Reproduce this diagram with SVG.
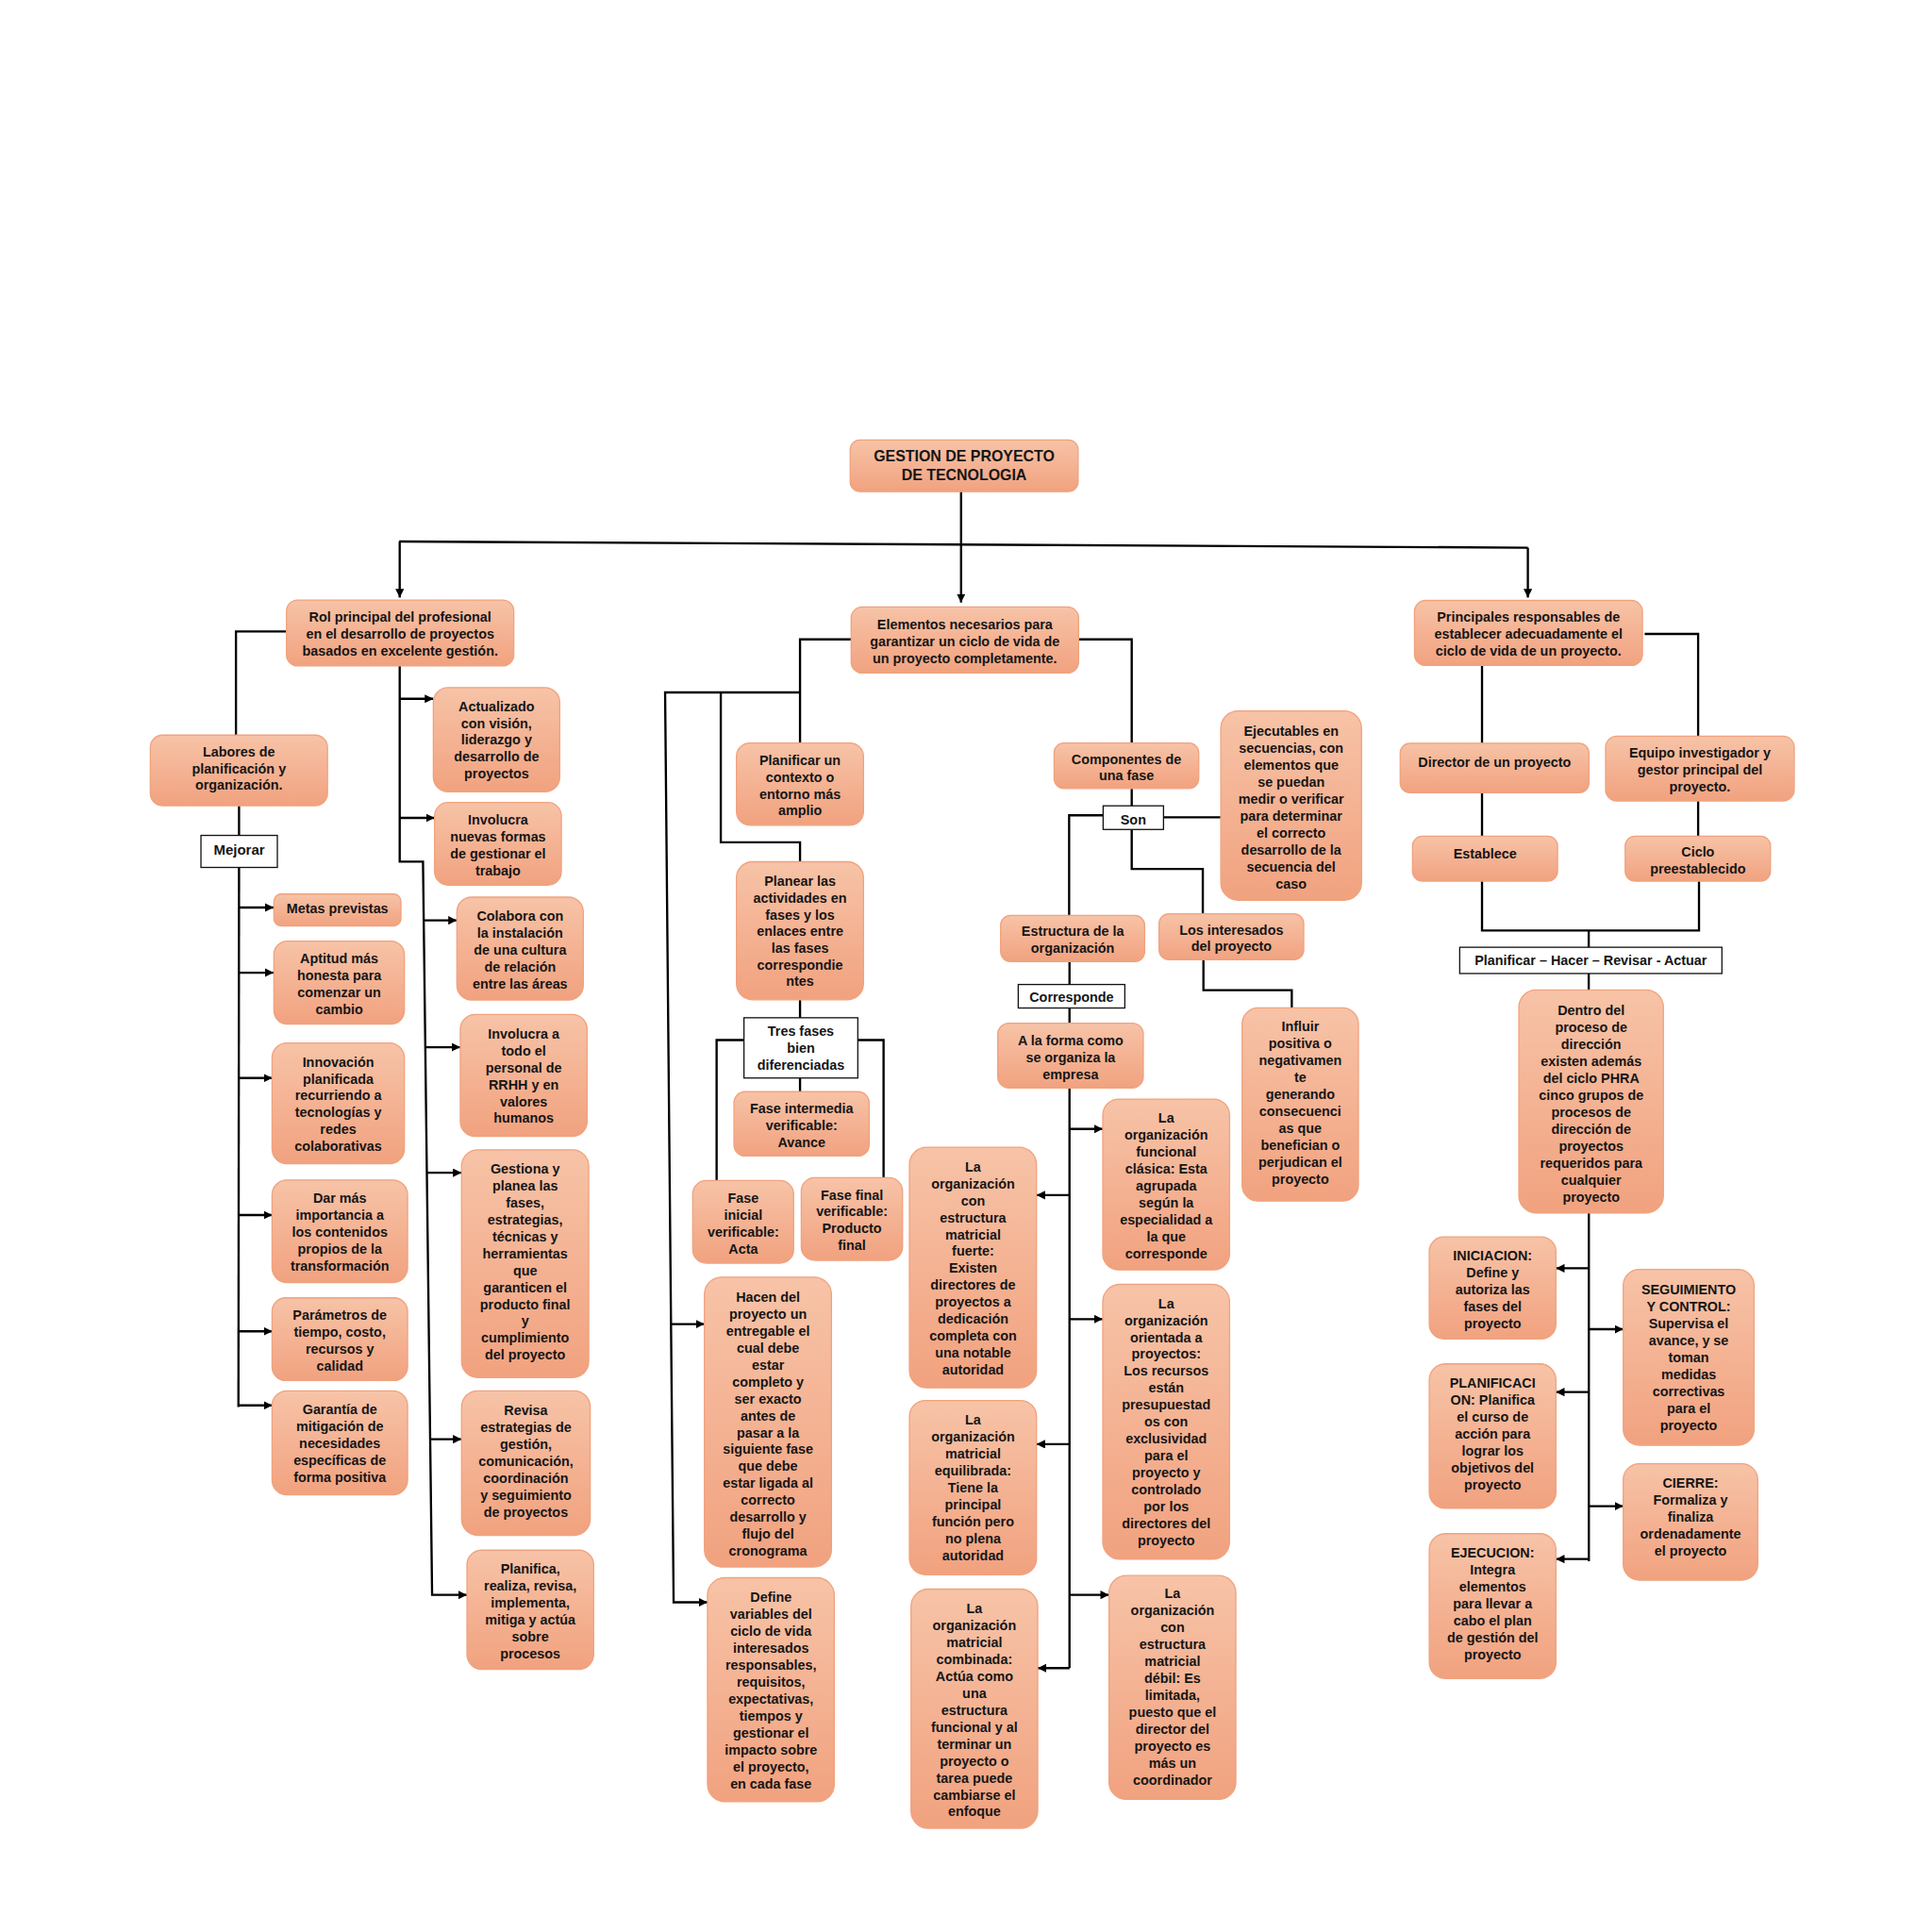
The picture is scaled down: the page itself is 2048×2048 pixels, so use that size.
<svg xmlns="http://www.w3.org/2000/svg" width="2048" height="2048" viewBox="0 0 2048 2048">
<style>
.node rect{fill:url(#gr);stroke:#F0A27E;stroke-width:1}
.lbl rect{fill:#fff;stroke:#111;stroke-width:1}
text{font-family:"Liberation Sans",Arial,sans-serif;font-weight:bold;font-size:11px;fill:#151515;text-anchor:middle}
#connectors path{fill:none;stroke:#000;stroke-width:1.8}
#connectors path.a{marker-end:url(#ah)}
</style>
<defs>
<linearGradient id="gr" x1="0" y1="0" x2="0" y2="1">
<stop offset="0" stop-color="#F7C3A7"/>
<stop offset="1" stop-color="#F1A27F"/>
</linearGradient>
<marker id="ah" markerUnits="userSpaceOnUse" markerWidth="7" markerHeight="7" refX="7" refY="3.5" orient="auto">
<path d="M0,0 L7,3.5 L0,7 z" fill="#000"/>
</marker>
</defs>
<rect width="2048" height="2048" fill="#fff"/>
<g transform="scale(1.306122)">
<g id="connectors">
<path class="a" d="M780,399 V489"/>
<path d="M324,439.5 L1240,444.5"/>
<path class="a" d="M324.4,439.5 V485"/>
<path class="a" d="M1240,444.5 V485"/>
<path d="M232.5,512.5 H191.5 V596.6"/>
<path d="M194,654 V678"/>
<path d="M194,704 L193.5,1142"/>
<path class="a" d="M194,736.5 H222"/>
<path class="a" d="M194,789.4 H222"/>
<path class="a" d="M194,874.9 H221"/>
<path class="a" d="M194,986.1 H221"/>
<path class="a" d="M193.8,1080.5 H221"/>
<path class="a" d="M193.5,1140.6 H221"/>
<path class="a" d="M324.4,540 V699.3 H343.3 L350.7,1294.4 H379"/>
<path class="a" d="M324.4,567.1 H351.7"/>
<path class="a" d="M324.4,663.8 H352.7"/>
<path class="a" d="M343.9,747 H370.8"/>
<path class="a" d="M345.2,849.9 H373.6"/>
<path class="a" d="M346.5,951.8 H374.6"/>
<path class="a" d="M349.2,1168.1 H374.6"/>
<path d="M690.8,518.9 H649.3 V603"/>
<path class="a" d="M649.3,562 H539.8 L546.7,1300.4 H574.2"/>
<path class="a" d="M544.6,1074.6 H571.7"/>
<path d="M585,562 V683.6 H649.3 V699.4"/>
<path d="M649.3,811.4 V826"/>
<path d="M603.8,844.1 H581.6 V958.1"/>
<path d="M696.2,844.1 H717.1 V955.8"/>
<path d="M649.3,875 V886"/>
<path d="M875.4,518.9 H918.5 V603"/>
<path d="M918.5,640 V654"/>
<path d="M895.3,661.7 H867.7 V743"/>
<path d="M944.3,663.3 H990.8"/>
<path d="M918.5,673.2 V705.2 H976.2 V741.6"/>
<path d="M868,780.4 V799"/>
<path d="M868,818.1 V830.4"/>
<path d="M976.7,779 V803.6 H1048.4 V818"/>
<path d="M868,883 V1353.8"/>
<path class="a" d="M868,916.3 H895"/>
<path class="a" d="M868,970 H841.2"/>
<path class="a" d="M868,1070.6 H895"/>
<path class="a" d="M868,1172.1 H841.2"/>
<path class="a" d="M868,1294.4 H900.1"/>
<path class="a" d="M868,1353.8 H842.2"/>
<path d="M1334.8,514.5 H1378.2 V597.5"/>
<path d="M1202.8,540.1 V603.2"/>
<path d="M1202.8,643.4 V678.6"/>
<path d="M1378.2,650 V678.6"/>
<path d="M1202.8,715.1 V755.2 H1378.9 V715.1"/>
<path d="M1289.4,755.2 V768.8"/>
<path d="M1289.4,790.1 V803.4"/>
<path d="M1289.5,984.4 V1267.2"/>
<path class="a" d="M1289.5,1029.3 H1262.8"/>
<path class="a" d="M1289.5,1078.8 H1317.4"/>
<path class="a" d="M1289.5,1129.8 H1262.8"/>
<path class="a" d="M1289.5,1222.4 H1317.4"/>
<path class="a" d="M1289.5,1265.3 H1262.8"/>
</g>

<g id="n-title" class="node"><rect x="690" y="357" width="185" height="42" rx="8"/><text x="782.5" y="374.4" style="font-size:12.2px"><tspan x="782.5">GESTION DE PROYECTO</tspan><tspan x="782.5" dy="15.4">DE TECNOLOGIA</tspan></text></g>
<g id="n-rol" class="node"><rect x="232.5" y="487" width="184.5" height="53.5" rx="9"/><text x="324.75" y="504.2"><tspan x="324.75">Rol principal del profesional</tspan><tspan x="324.75" dy="13.8">en el desarrollo de proyectos</tspan><tspan x="324.75" dy="13.8">basados en excelente gestión.</tspan></text></g>
<g id="n-elementos" class="node"><rect x="690.8" y="492.6" width="184.6" height="53.6" rx="9"/><text x="783.1" y="510.3"><tspan x="783.1">Elementos necesarios para</tspan><tspan x="783.1" dy="13.8">garantizar un ciclo de vida de</tspan><tspan x="783.1" dy="13.8">un proyecto completamente.</tspan></text></g>
<g id="n-principales" class="node"><rect x="1148" y="487.3" width="185" height="52.8" rx="9"/><text x="1240.5" y="504.6"><tspan x="1240.5">Principales responsables de</tspan><tspan x="1240.5" dy="13.6">establecer adecuadamente el</tspan><tspan x="1240.5" dy="13.6">ciclo de vida de un proyecto.</tspan></text></g>

<g id="n-labores" class="node"><rect x="122" y="596.6" width="143.8" height="57.3" rx="10"/><text x="193.9" y="614.2"><tspan x="193.9">Labores de</tspan><tspan x="193.9" dy="13.5">planificación y</tspan><tspan x="193.9" dy="13.5">organización.</tspan></text></g>
<g id="n-mejorar" class="lbl"><rect x="163.1" y="678" width="62" height="26"/><text x="194.1" y="694" style="font-size:11.5px">Mejorar</text></g>
<g id="n-metas" class="node"><rect x="222.3" y="725.6" width="103.1" height="26" rx="6"/><text x="273.9" y="741.5">Metas previstas</text></g>
<g id="n-aptitud" class="node"><rect x="222.3" y="763.8" width="105.9" height="67.4" rx="11"/><text x="275.3" y="781.9"><tspan x="275.3">Aptitud más</tspan><tspan x="275.3" dy="13.75">honesta para</tspan><tspan x="275.3" dy="13.75">comenzar un</tspan><tspan x="275.3" dy="13.75">cambio</tspan></text></g>
<g id="n-innovacion" class="node"><rect x="220.8" y="846.5" width="107.4" height="98" rx="12"/><text x="274.5" y="865.6"><tspan x="274.5">Innovación</tspan><tspan x="274.5" dy="13.75">planificada</tspan><tspan x="274.5" dy="13.75">recurriendo a</tspan><tspan x="274.5" dy="13.75">tecnologías y</tspan><tspan x="274.5" dy="13.75">redes</tspan><tspan x="274.5" dy="13.75">colaborativas</tspan></text></g>
<g id="n-darmas" class="node"><rect x="220.8" y="957.7" width="110" height="83.2" rx="12"/><text x="275.8" y="976.4"><tspan x="275.8">Dar más</tspan><tspan x="275.8" dy="13.75">importancia a</tspan><tspan x="275.8" dy="13.75">los contenidos</tspan><tspan x="275.8" dy="13.75">propios de la</tspan><tspan x="275.8" dy="13.75">transformación</tspan></text></g>
<g id="n-parametros" class="node"><rect x="220.8" y="1053.3" width="110" height="67.1" rx="11"/><text x="275.8" y="1071.3"><tspan x="275.8">Parámetros de</tspan><tspan x="275.8" dy="13.75">tiempo, costo,</tspan><tspan x="275.8" dy="13.75">recursos y</tspan><tspan x="275.8" dy="13.75">calidad</tspan></text></g>
<g id="n-garantia" class="node"><rect x="220.8" y="1128.8" width="110" height="84.4" rx="12"/><text x="275.8" y="1147.5"><tspan x="275.8">Garantía de</tspan><tspan x="275.8" dy="13.75">mitigación de</tspan><tspan x="275.8" dy="13.75">necesidades</tspan><tspan x="275.8" dy="13.75">específicas de</tspan><tspan x="275.8" dy="13.75">forma positiva</tspan></text></g>

<g id="n-actualizado" class="node"><rect x="351.7" y="558.1" width="102.6" height="84.5" rx="12"/><text x="403" y="577"><tspan x="403">Actualizado</tspan><tspan x="403" dy="13.7">con visión,</tspan><tspan x="403" dy="13.7">liderazgo y</tspan><tspan x="403" dy="13.7">desarrollo de</tspan><tspan x="403" dy="13.7">proyectos</tspan></text></g>
<g id="n-involucra-nuevas" class="node"><rect x="352.7" y="651.3" width="102.9" height="67.1" rx="11"/><text x="404.2" y="669"><tspan x="404.2">Involucra</tspan><tspan x="404.2" dy="13.9">nuevas formas</tspan><tspan x="404.2" dy="13.9">de gestionar el</tspan><tspan x="404.2" dy="13.9">trabajo</tspan></text></g>
<g id="n-colabora" class="node"><rect x="370.8" y="728.1" width="102.6" height="83.5" rx="12"/><text x="422.1" y="746.9"><tspan x="422.1">Colabora con</tspan><tspan x="422.1" dy="13.85">la instalación</tspan><tspan x="422.1" dy="13.85">de una cultura</tspan><tspan x="422.1" dy="13.85">de relación</tspan><tspan x="422.1" dy="13.85">entre las áreas</tspan></text></g>
<g id="n-involucra-todo" class="node"><rect x="373.6" y="823.3" width="102.9" height="99" rx="12"/><text x="425" y="842.9"><tspan x="425">Involucra a</tspan><tspan x="425" dy="13.7">todo el</tspan><tspan x="425" dy="13.7">personal de</tspan><tspan x="425" dy="13.7">RRHH y en</tspan><tspan x="425" dy="13.7">valores</tspan><tspan x="425" dy="13.7">humanos</tspan></text></g>
<g id="n-gestiona" class="node"><rect x="374.6" y="933.2" width="103.2" height="184.8" rx="13"/><text x="426.2" y="952.4"><tspan x="426.2">Gestiona y</tspan><tspan x="426.2" dy="13.74">planea las</tspan><tspan x="426.2" dy="13.74">fases,</tspan><tspan x="426.2" dy="13.74">estrategias,</tspan><tspan x="426.2" dy="13.74">técnicas y</tspan><tspan x="426.2" dy="13.74">herramientas</tspan><tspan x="426.2" dy="13.74">que</tspan><tspan x="426.2" dy="13.74">garanticen el</tspan><tspan x="426.2" dy="13.74">producto final</tspan><tspan x="426.2" dy="13.74">y</tspan><tspan x="426.2" dy="13.74">cumplimiento</tspan><tspan x="426.2" dy="13.74">del proyecto</tspan></text></g>
<g id="n-revisa" class="node"><rect x="374.6" y="1128.8" width="104.4" height="117.3" rx="13"/><text x="426.8" y="1148.6"><tspan x="426.8">Revisa</tspan><tspan x="426.8" dy="13.74">estrategias de</tspan><tspan x="426.8" dy="13.74">gestión,</tspan><tspan x="426.8" dy="13.74">comunicación,</tspan><tspan x="426.8" dy="13.74">coordinación</tspan><tspan x="426.8" dy="13.74">y seguimiento</tspan><tspan x="426.8" dy="13.74">de proyectos</tspan></text></g>
<g id="n-planifica-realiza" class="node"><rect x="379" y="1258.1" width="102.8" height="96.7" rx="12"/><text x="430.4" y="1277.3"><tspan x="430.4">Planifica,</tspan><tspan x="430.4" dy="13.74">realiza, revisa,</tspan><tspan x="430.4" dy="13.74">implementa,</tspan><tspan x="430.4" dy="13.74">mitiga y actúa</tspan><tspan x="430.4" dy="13.74">sobre</tspan><tspan x="430.4" dy="13.74">procesos</tspan></text></g>

<g id="n-planificar-contexto" class="node"><rect x="597.7" y="603" width="103.1" height="66.8" rx="11"/><text x="649.3" y="621"><tspan x="649.3">Planificar un</tspan><tspan x="649.3" dy="13.6">contexto o</tspan><tspan x="649.3" dy="13.6">entorno más</tspan><tspan x="649.3" dy="13.6">amplio</tspan></text></g>
<g id="n-planear" class="node"><rect x="597.7" y="699.4" width="103.1" height="112" rx="13"/><text x="649.3" y="719.2"><tspan x="649.3">Planear las</tspan><tspan x="649.3" dy="13.5">actividades en</tspan><tspan x="649.3" dy="13.5">fases y los</tspan><tspan x="649.3" dy="13.5">enlaces entre</tspan><tspan x="649.3" dy="13.5">las fases</tspan><tspan x="649.3" dy="13.5">correspondie</tspan><tspan x="649.3" dy="13.5">ntes</tspan></text></g>
<g id="n-tres-fases" class="lbl"><rect x="603.8" y="826" width="92.4" height="48.9"/><text x="650" y="840.9"><tspan x="650">Tres fases</tspan><tspan x="650" dy="13.7">bien</tspan><tspan x="650" dy="13.7">diferenciadas</tspan></text></g>
<g id="n-fase-intermedia" class="node"><rect x="595.7" y="886" width="109.7" height="52.2" rx="9"/><text x="650.6" y="903.8"><tspan x="650.6">Fase intermedia</tspan><tspan x="650.6" dy="13.45">verificable:</tspan><tspan x="650.6" dy="13.45">Avance</tspan></text></g>
<g id="n-fase-inicial" class="node"><rect x="562.2" y="958.1" width="81.9" height="67.1" rx="11"/><text x="603.2" y="975.9"><tspan x="603.2">Fase</tspan><tspan x="603.2" dy="13.75">inicial</tspan><tspan x="603.2" dy="13.75">verificable:</tspan><tspan x="603.2" dy="13.75">Acta</tspan></text></g>
<g id="n-fase-final" class="node"><rect x="650.3" y="955.8" width="82.2" height="67.1" rx="11"/><text x="691.4" y="973.5"><tspan x="691.4">Fase final</tspan><tspan x="691.4" dy="13.7">verificable:</tspan><tspan x="691.4" dy="13.7">Producto</tspan><tspan x="691.4" dy="13.7">final</tspan></text></g>
<g id="n-hacen" class="node"><rect x="571.7" y="1036.5" width="103.1" height="235.2" rx="14"/><text x="623.3" y="1056.6"><tspan x="623.3">Hacen del</tspan><tspan x="623.3" dy="13.73">proyecto un</tspan><tspan x="623.3" dy="13.73">entregable el</tspan><tspan x="623.3" dy="13.73">cual debe</tspan><tspan x="623.3" dy="13.73">estar</tspan><tspan x="623.3" dy="13.73">completo y</tspan><tspan x="623.3" dy="13.73">ser exacto</tspan><tspan x="623.3" dy="13.73">antes de</tspan><tspan x="623.3" dy="13.73">pasar a la</tspan><tspan x="623.3" dy="13.73">siguiente fase</tspan><tspan x="623.3" dy="13.73">que debe</tspan><tspan x="623.3" dy="13.73">estar ligada al</tspan><tspan x="623.3" dy="13.73">correcto</tspan><tspan x="623.3" dy="13.73">desarrollo y</tspan><tspan x="623.3" dy="13.73">flujo del</tspan><tspan x="623.3" dy="13.73">cronograma</tspan></text></g>
<g id="n-define" class="node"><rect x="574.2" y="1280.5" width="102.9" height="181.7" rx="14"/><text x="625.7" y="1299.8"><tspan x="625.7">Define</tspan><tspan x="625.7" dy="13.8">variables del</tspan><tspan x="625.7" dy="13.8">ciclo de vida</tspan><tspan x="625.7" dy="13.8">interesados</tspan><tspan x="625.7" dy="13.8">responsables,</tspan><tspan x="625.7" dy="13.8">requisitos,</tspan><tspan x="625.7" dy="13.8">expectativas,</tspan><tspan x="625.7" dy="13.8">tiempos y</tspan><tspan x="625.7" dy="13.8">gestionar el</tspan><tspan x="625.7" dy="13.8">impacto sobre</tspan><tspan x="625.7" dy="13.8">el proyecto,</tspan><tspan x="625.7" dy="13.8">en cada fase</tspan></text></g>

<g id="n-componentes" class="node"><rect x="855.5" y="603" width="117.4" height="36.9" rx="8"/><text x="914.2" y="619.8"><tspan x="914.2">Componentes de</tspan><tspan x="914.2" dy="13.1">una fase</tspan></text></g>
<g id="n-son" class="lbl"><rect x="895.3" y="654" width="49" height="19.2"/><text x="919.8" y="668.8">Son</text></g>
<g id="n-ejecutables" class="node"><rect x="990.8" y="577" width="114.2" height="153.6" rx="14"/><text x="1047.9" y="597.4"><tspan x="1047.9">Ejecutables en</tspan><tspan x="1047.9" dy="13.74">secuencias, con</tspan><tspan x="1047.9" dy="13.74">elementos que</tspan><tspan x="1047.9" dy="13.74">se puedan</tspan><tspan x="1047.9" dy="13.74">medir o verificar</tspan><tspan x="1047.9" dy="13.74">para determinar</tspan><tspan x="1047.9" dy="13.74">el correcto</tspan><tspan x="1047.9" dy="13.74">desarrollo de la</tspan><tspan x="1047.9" dy="13.74">secuencia del</tspan><tspan x="1047.9" dy="13.74">caso</tspan></text></g>
<g id="n-estructura" class="node"><rect x="812.1" y="743" width="116.9" height="37.4" rx="8"/><text x="870.6" y="759.5"><tspan x="870.6">Estructura de la</tspan><tspan x="870.6" dy="13.4">organización</tspan></text></g>
<g id="n-interesados" class="node"><rect x="940.7" y="741.6" width="117.4" height="37.4" rx="8"/><text x="999.4" y="758.4"><tspan x="999.4">Los interesados</tspan><tspan x="999.4" dy="13.7">del proyecto</tspan></text></g>
<g id="n-corresponde" class="lbl"><rect x="826.4" y="799" width="86.5" height="19.1"/><text x="869.7" y="813.3">Corresponde</text></g>
<g id="n-forma" class="node"><rect x="809.8" y="830.4" width="118.1" height="52.6" rx="9"/><text x="868.9" y="848.1"><tspan x="868.9">A la forma como</tspan><tspan x="868.9" dy="13.7">se organiza la</tspan><tspan x="868.9" dy="13.7">empresa</tspan></text></g>
<g id="n-influir" class="node"><rect x="1008.1" y="818" width="94.4" height="156.8" rx="13"/><text x="1055.3" y="837.2"><tspan x="1055.3">Influir</tspan><tspan x="1055.3" dy="13.77">positiva o</tspan><tspan x="1055.3" dy="13.77">negativamen</tspan><tspan x="1055.3" dy="13.77">te</tspan><tspan x="1055.3" dy="13.77">generando</tspan><tspan x="1055.3" dy="13.77">consecuenci</tspan><tspan x="1055.3" dy="13.77">as que</tspan><tspan x="1055.3" dy="13.77">benefician o</tspan><tspan x="1055.3" dy="13.77">perjudican el</tspan><tspan x="1055.3" dy="13.77">proyecto</tspan></text></g>
<g id="n-funcional" class="node"><rect x="895" y="892" width="102.9" height="138.7" rx="13"/><text x="946.5" y="910.9"><tspan x="946.5">La</tspan><tspan x="946.5" dy="13.78">organización</tspan><tspan x="946.5" dy="13.78">funcional</tspan><tspan x="946.5" dy="13.78">clásica: Esta</tspan><tspan x="946.5" dy="13.78">agrupada</tspan><tspan x="946.5" dy="13.78">según la</tspan><tspan x="946.5" dy="13.78">especialidad a</tspan><tspan x="946.5" dy="13.78">la que</tspan><tspan x="946.5" dy="13.78">corresponde</tspan></text></g>
<g id="n-fuerte" class="node"><rect x="738.1" y="931.1" width="103.1" height="195.3" rx="14"/><text x="789.7" y="950.7"><tspan x="789.7">La</tspan><tspan x="789.7" dy="13.74">organización</tspan><tspan x="789.7" dy="13.74">con</tspan><tspan x="789.7" dy="13.74">estructura</tspan><tspan x="789.7" dy="13.74">matricial</tspan><tspan x="789.7" dy="13.74">fuerte:</tspan><tspan x="789.7" dy="13.74">Existen</tspan><tspan x="789.7" dy="13.74">directores de</tspan><tspan x="789.7" dy="13.74">proyectos a</tspan><tspan x="789.7" dy="13.74">dedicación</tspan><tspan x="789.7" dy="13.74">completa con</tspan><tspan x="789.7" dy="13.74">una notable</tspan><tspan x="789.7" dy="13.74">autoridad</tspan></text></g>
<g id="n-orientada" class="node"><rect x="895" y="1042.4" width="102.9" height="223.1" rx="14"/><text x="946.5" y="1061.6"><tspan x="946.5">La</tspan><tspan x="946.5" dy="13.76">organización</tspan><tspan x="946.5" dy="13.76">orientada a</tspan><tspan x="946.5" dy="13.76">proyectos:</tspan><tspan x="946.5" dy="13.76">Los recursos</tspan><tspan x="946.5" dy="13.76">están</tspan><tspan x="946.5" dy="13.76">presupuestad</tspan><tspan x="946.5" dy="13.76">os con</tspan><tspan x="946.5" dy="13.76">exclusividad</tspan><tspan x="946.5" dy="13.76">para el</tspan><tspan x="946.5" dy="13.76">proyecto y</tspan><tspan x="946.5" dy="13.76">controlado</tspan><tspan x="946.5" dy="13.76">por los</tspan><tspan x="946.5" dy="13.76">directores del</tspan><tspan x="946.5" dy="13.76">proyecto</tspan></text></g>
<g id="n-equilibrada" class="node"><rect x="738.1" y="1136.6" width="103.1" height="141.4" rx="13"/><text x="789.7" y="1156.2"><tspan x="789.7">La</tspan><tspan x="789.7" dy="13.73">organización</tspan><tspan x="789.7" dy="13.73">matricial</tspan><tspan x="789.7" dy="13.73">equilibrada:</tspan><tspan x="789.7" dy="13.73">Tiene la</tspan><tspan x="789.7" dy="13.73">principal</tspan><tspan x="789.7" dy="13.73">función pero</tspan><tspan x="789.7" dy="13.73">no plena</tspan><tspan x="789.7" dy="13.73">autoridad</tspan></text></g>
<g id="n-debil" class="node"><rect x="900.1" y="1278.7" width="102.9" height="181.7" rx="14"/><text x="951.6" y="1297.2"><tspan x="951.6">La</tspan><tspan x="951.6" dy="13.75">organización</tspan><tspan x="951.6" dy="13.75">con</tspan><tspan x="951.6" dy="13.75">estructura</tspan><tspan x="951.6" dy="13.75">matricial</tspan><tspan x="951.6" dy="13.75">débil: Es</tspan><tspan x="951.6" dy="13.75">limitada,</tspan><tspan x="951.6" dy="13.75">puesto que el</tspan><tspan x="951.6" dy="13.75">director del</tspan><tspan x="951.6" dy="13.75">proyecto es</tspan><tspan x="951.6" dy="13.75">más un</tspan><tspan x="951.6" dy="13.75">coordinador</tspan></text></g>
<g id="n-combinada" class="node"><rect x="739.4" y="1289.7" width="102.8" height="194.1" rx="14"/><text x="790.8" y="1309.3"><tspan x="790.8">La</tspan><tspan x="790.8" dy="13.74">organización</tspan><tspan x="790.8" dy="13.74">matricial</tspan><tspan x="790.8" dy="13.74">combinada:</tspan><tspan x="790.8" dy="13.74">Actúa como</tspan><tspan x="790.8" dy="13.74">una</tspan><tspan x="790.8" dy="13.74">estructura</tspan><tspan x="790.8" dy="13.74">funcional y al</tspan><tspan x="790.8" dy="13.74">terminar un</tspan><tspan x="790.8" dy="13.74">proyecto o</tspan><tspan x="790.8" dy="13.74">tarea puede</tspan><tspan x="790.8" dy="13.74">cambiarse el</tspan><tspan x="790.8" dy="13.74">enfoque</tspan></text></g>

<g id="n-director" class="node"><rect x="1136.4" y="603.2" width="153.2" height="40.2" rx="8"/><text x="1213" y="622.8">Director de un proyecto</text></g>
<g id="n-equipo" class="node"><rect x="1303.1" y="597.5" width="153.1" height="52.5" rx="9"/><text x="1379.6" y="614.8"><tspan x="1379.6">Equipo investigador y</tspan><tspan x="1379.6" dy="13.65">gestor principal del</tspan><tspan x="1379.6" dy="13.65">proyecto.</tspan></text></g>
<g id="n-establece" class="node"><rect x="1146.4" y="678.6" width="117.7" height="36.5" rx="8"/><text x="1205.3" y="696.8">Establece</text></g>
<g id="n-ciclo" class="node"><rect x="1319" y="678.6" width="117.9" height="36.5" rx="8"/><text x="1378" y="695.1"><tspan x="1378">Ciclo</tspan><tspan x="1378" dy="14.1">preestablecido</tspan></text></g>
<g id="n-phra" class="lbl"><rect x="1184.7" y="768.8" width="212.8" height="21.3"/><text x="1291.1" y="783.5">Planificar – Hacer – Revisar - Actuar</text></g>
<g id="n-dentro" class="node"><rect x="1232.7" y="803.4" width="117.3" height="181" rx="14"/><text x="1291.4" y="824"><tspan x="1291.4">Dentro del</tspan><tspan x="1291.4" dy="13.73">proceso de</tspan><tspan x="1291.4" dy="13.73">dirección</tspan><tspan x="1291.4" dy="13.73">existen además</tspan><tspan x="1291.4" dy="13.73">del ciclo PHRA</tspan><tspan x="1291.4" dy="13.73">cinco grupos de</tspan><tspan x="1291.4" dy="13.73">procesos de</tspan><tspan x="1291.4" dy="13.73">dirección de</tspan><tspan x="1291.4" dy="13.73">proyectos</tspan><tspan x="1291.4" dy="13.73">requeridos para</tspan><tspan x="1291.4" dy="13.73">cualquier</tspan><tspan x="1291.4" dy="13.73">proyecto</tspan></text></g>
<g id="n-iniciacion" class="node"><rect x="1160" y="1003.8" width="102.8" height="82.9" rx="12"/><text x="1211.4" y="1022.8"><tspan x="1211.4">INICIACION:</tspan><tspan x="1211.4" dy="13.73">Define y</tspan><tspan x="1211.4" dy="13.73">autoriza las</tspan><tspan x="1211.4" dy="13.73">fases del</tspan><tspan x="1211.4" dy="13.73">proyecto</tspan></text></g>
<g id="n-planificacion" class="node"><rect x="1160" y="1106.9" width="102.8" height="117.3" rx="13"/><text x="1211.4" y="1126.4"><tspan x="1211.4">PLANIFICACI</tspan><tspan x="1211.4" dy="13.78">ON: Planifica</tspan><tspan x="1211.4" dy="13.78">el curso de</tspan><tspan x="1211.4" dy="13.78">acción para</tspan><tspan x="1211.4" dy="13.78">lograr los</tspan><tspan x="1211.4" dy="13.78">objetivos del</tspan><tspan x="1211.4" dy="13.78">proyecto</tspan></text></g>
<g id="n-ejecucion" class="node"><rect x="1160" y="1244.7" width="102.8" height="117.6" rx="13"/><text x="1211.4" y="1264.3"><tspan x="1211.4">EJECUCION:</tspan><tspan x="1211.4" dy="13.78">Integra</tspan><tspan x="1211.4" dy="13.78">elementos</tspan><tspan x="1211.4" dy="13.78">para llevar a</tspan><tspan x="1211.4" dy="13.78">cabo el plan</tspan><tspan x="1211.4" dy="13.78">de gestión del</tspan><tspan x="1211.4" dy="13.78">proyecto</tspan></text></g>
<g id="n-seguimiento" class="node"><rect x="1317.4" y="1030.3" width="106.2" height="142.7" rx="13"/><text x="1370.5" y="1050.1"><tspan x="1370.5">SEGUIMIENTO</tspan><tspan x="1370.5" dy="13.78">Y CONTROL:</tspan><tspan x="1370.5" dy="13.78">Supervisa el</tspan><tspan x="1370.5" dy="13.78">avance, y se</tspan><tspan x="1370.5" dy="13.78">toman</tspan><tspan x="1370.5" dy="13.78">medidas</tspan><tspan x="1370.5" dy="13.78">correctivas</tspan><tspan x="1370.5" dy="13.78">para el</tspan><tspan x="1370.5" dy="13.78">proyecto</tspan></text></g>
<g id="n-cierre" class="node"><rect x="1317.4" y="1188" width="109.2" height="94.5" rx="13"/><text x="1372" y="1207.3"><tspan x="1372">CIERRE:</tspan><tspan x="1372" dy="13.78">Formaliza y</tspan><tspan x="1372" dy="13.78">finaliza</tspan><tspan x="1372" dy="13.78">ordenadamente</tspan><tspan x="1372" dy="13.78">el proyecto</tspan></text></g>
</g>
</svg>
